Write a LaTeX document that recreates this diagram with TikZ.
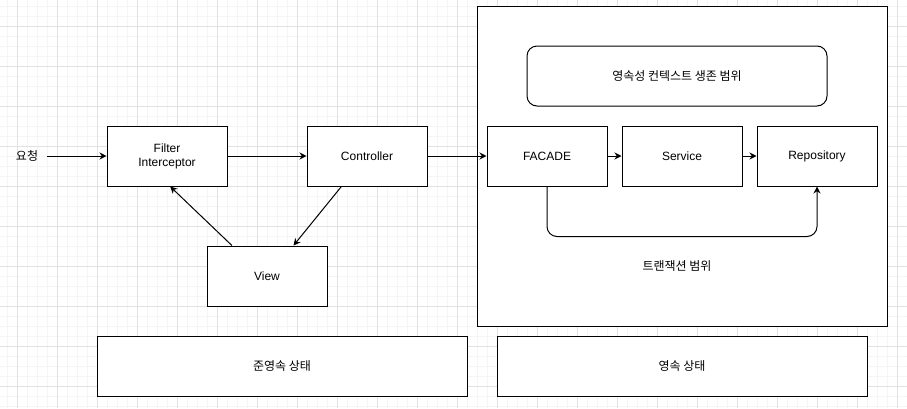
\documentclass[tikz,border=0pt]{standalone}
\usepackage{fontspec}
\setmainfont{Liberation Sans}
\newfontfamily\kr{Noto Sans CJK KR}
\usetikzlibrary{arrows.meta}
\definecolor{gridmajor}{RGB}{226,226,226}
\definecolor{gridminor}{RGB}{245,245,245}

\tikzset{
  box/.style={draw, fill=white, line width=1pt, minimum width=120pt, minimum height=60pt, inner sep=0pt, align=center},
  statebox/.style={box, minimum width=370pt},
  flow/.style={line width=1pt, -{Stealth[length=7pt,width=7pt]}},
}

\begin{document}
\begin{tikzpicture}[x=1pt, y=-1pt, font=\fontsize{12}{14}\selectfont]
  \useasboundingbox (0,0) rectangle (907,408);
  % background grid
  \foreach \gx in {7,17,...,907} \draw[gridminor, line width=1pt] (\gx,0) -- (\gx,408);
  \foreach \gy in {6,16,...,406} \draw[gridminor, line width=1pt] (0,\gy) -- (907,\gy);
  \foreach \gx in {17,57,...,907} \draw[gridmajor, line width=1pt] (\gx,0) -- (\gx,408);
  \foreach \gy in {26,66,...,406} \draw[gridmajor, line width=1pt] (0,\gy) -- (907,\gy);

  % transaction scope
  \node[draw, fill=white, line width=1pt, minimum width=410pt, minimum height=320pt, inner sep=0pt] (txscope) at (682,166) {};
  \node (txlabel) at (677,266) {\kr 트랜잭션 범위};
  \node[box, rounded corners=10pt, minimum width=300pt] (pcscope) at (677,76) {\kr 영속성 컨텍스트 생존 범위};

  % layers
  \node (req) at (27,156) {\kr 요청};
  \coordinate (reqout) at (47,156);
  \node[box] (filter)  at (167,156) {Filter\\Interceptor};
  \node[box] (ctrl)    at (367,156) {Controller};
  \node[box] (view)    at (267,276) {View};
  \node[box] (facade)  at (547,156) {FACADE};
  \node[box] (service) at (682,156) {Service};
  \node[box] (repo)    at (817,156) {Repository};

  % entity states
  \node[statebox] (detached) at (282,366) {\kr 준영속 상태};
  \node[statebox] (managed)  at (682,366) {\kr 영속 상태};

  \draw[flow] (reqout) -- (filter);
  \draw[flow] (filter) -- (ctrl);
  \draw[flow] (ctrl) -- (facade);
  \draw[flow] (facade) -- (service);
  \draw[flow] (service) -- (repo);
  \draw[flow] (ctrl.230) -- (view.49);
  \draw[flow] (view.139) -- (filter.276);
  \draw[flow, rounded corners=10pt] (facade.south) -- ++(0,50) -| (repo.south);
\end{tikzpicture}
\end{document}
